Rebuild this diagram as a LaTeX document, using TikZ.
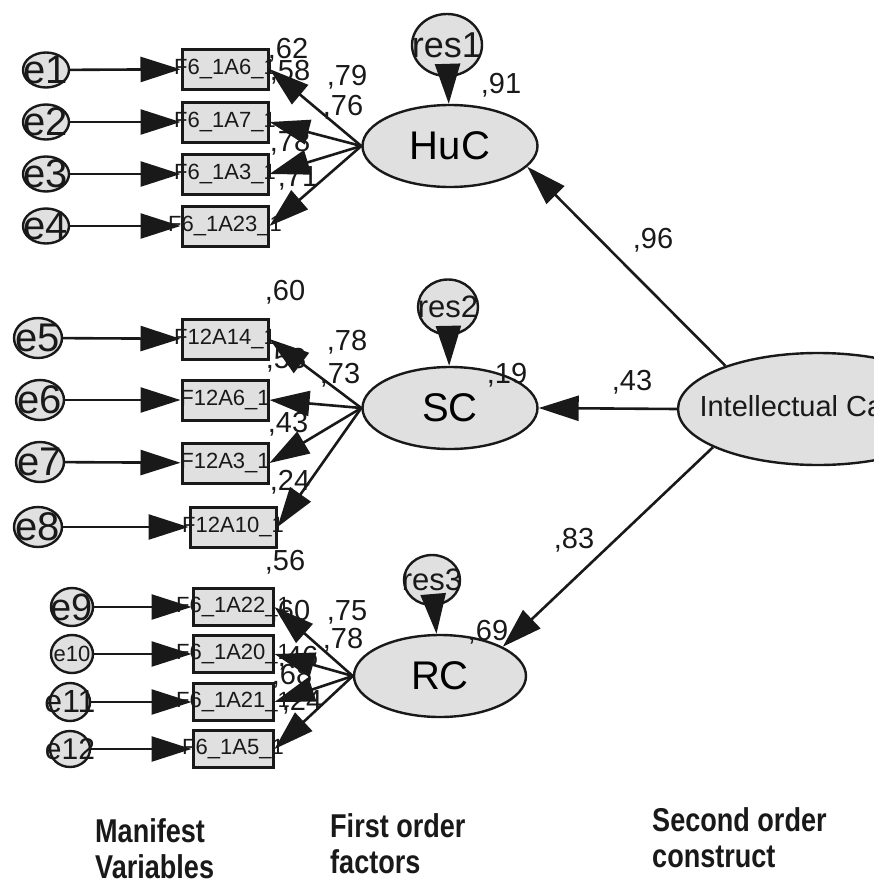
\documentclass[tikz,border=0pt]{standalone}
\usepackage{fontspec}
\usepackage{graphicx}
\setmainfont{Liberation Sans}
\usetikzlibrary{shapes.geometric,arrows.meta}
\newcommand\fs[1]{\fontsize{#1}{#1}\selectfont}
\newcommand\narrow[1]{\scalebox{0.82}[1]{#1}}
\begin{document}
\begin{tikzpicture}[x=1pt,y=-1pt,
  shell/.style={draw=black!90, line width=2.4pt, fill=black!12, inner sep=0pt},
  lat/.style={shell, ellipse, minimum width=175pt, minimum height=82pt, font=\fs{40}},
  res/.style={shell, ellipse},
  err/.style={shell, ellipse},
  obs/.style={shell, rectangle, line width=3pt, minimum width=86pt, minimum height=40pt},
  arr/.style={line width=2.6pt, draw=black!90, -{Triangle[length=40pt,width=25pt]}},
  txt/.style={inner sep=0pt, text=black!90},
  val/.style={txt, font=\fs{29}},
  item/.style={txt, font=\fs{22}},
  colcap/.style={txt, font=\fontsize{33}{36}\selectfont\bfseries, align=left, anchor=north west}
]
\useasboundingbox (0,0) rectangle (874,889);
\clip (0,0) rectangle (874,889);

% ---------- second order construct ----------
\node[shell, ellipse, minimum width=280pt, minimum height=112pt] (IC) at (818,409) {};
\node[txt, font=\fs{29}] at (818,409) {Intellectual Capital};

% ---------- first order factors ----------
\node[lat] (HuC) at (450,146) {HuC};
\node[lat] (SC)  at (450,408) {SC};
\node[lat, minimum width=172pt] (RC) at (440,676) {RC};

% residuals of the factors
\node[res, minimum width=70pt, minimum height=62pt] (r1) at (447,45) {};
\node[txt, font=\fs{36}] at (r1) {res1};
\node[res, minimum width=60pt, minimum height=55pt] (r2) at (448,307) {};
\node[txt, font=\fs{31}] at (r2) {res2};
\node[res, minimum width=56pt, minimum height=50pt] (r3) at (432,580) {};
\node[txt, font=\fs{31}] at (r3) {res3};

% ---------- manifest variables ----------
\foreach \n/\x/\y/\t in {1/225/69/F6\_1A6\_1, 2/225/122/F6\_1A7\_1, 3/225/174/F6\_1A3\_1, 4/225/226/F6\_1A23\_1,
                         5/225/339/F12A14\_1, 6/225/400/F12A6\_1, 7/225/463/F12A3\_1, 8/233/527/F12A10\_1}{
  \node[obs] (b\n) at (\x,\y) {};
  \node[item] at (b\n) {\t};
}
\foreach \n/\y/\t in {9/607/F6\_1A22\_1, 10/654/F6\_1A20\_1, 11/702/F6\_1A21\_1, 12/749/F6\_1A5\_1}{
  \node[obs, minimum width=80pt, minimum height=37pt] (b\n) at (233,\y) {};
  \node[item] at (b\n) {\t};
}

% error terms
\foreach \n/\x/\y in {1/46/70, 2/46/122, 3/46/174, 4/46/226}{
  \node[err, minimum width=46pt, minimum height=35pt] (e\n) at (\x,\y) {};
  \node[txt, font=\fs{40}] at (e\n) {e\n};
}
\foreach \n/\x/\y in {5/38/338, 6/40/400, 7/40/462, 8/38/527}{
  \node[err, minimum width=48pt, minimum height=40pt] (e\n) at (\x,\y) {};
  \node[txt, font=\fs{40}] at (e\n) {e\n};
}
\node[err, minimum width=42pt, minimum height=38pt] (e9) at (72,607) {};
\node[txt, font=\fs{38}] at (e9) {e9};
\node[err, minimum width=42pt, minimum height=38pt] (e10) at (72,654) {};
\node[txt, font=\fs{22}] at (e10) {e10};
\node[err, minimum width=40pt, minimum height=38pt] (e11) at (70,702) {};
\node[txt, font=\fs{32}] at (e11) {e11};
\node[err, minimum width=40pt, minimum height=36pt] (e12) at (70,749) {};
\node[txt, font=\fs{30}] at (e12) {e12};

% ---------- estimates ----------
\node[val] at (288,50) {,62};
\node[val] at (290,72) {,58};
\node[val] at (347,77) {,79};
\node[val] at (343,107) {,76};
\node[val] at (290,143) {,78};
\node[val] at (298,178) {,71};
\node[val] at (501,85) {,91};

\node[val] at (285,292) {,60};
\node[val] at (347,342) {,78};
\node[val] at (286,360) {,53};
\node[val] at (340,375) {,73};
\node[val] at (288,424) {,43};
\node[val] at (290,482) {,24};
\node[val] at (507,375) {,19};

\node[val] at (285,562) {,56};
\node[val] at (290,612) {,60};
\node[val] at (347,612) {,75};
\node[val] at (343,640) {,78};
\node[val] at (298,658) {,46};
\node[val] at (292,676) {,68};
\node[val] at (302,702) {,24};
\node[val] at (488,632) {,69};

\node[val] at (653,240) {,96};
\node[val] at (632,382) {,43};
\node[val] at (574,540) {,83};

% ---------- paths ----------
\foreach \n in {1,...,12} \draw[arr] (e\n) -- (b\n);
\foreach \n in {1,...,4} \draw[arr] (HuC.west) -- (b\n.east);
\foreach \n in {5,...,8} \draw[arr] (SC.west) -- (b\n.east);
\foreach \n in {9,...,12} \draw[arr] (RC.west) -- (b\n.east);
\draw[arr] (r1) -- (HuC);
\draw[arr] (r2) -- (SC);
\draw[arr] (r3) -- (RC);
\draw[arr] (IC.155) -- (HuC.-15);
\draw[arr] (IC.west) -- (SC.east);
\draw[arr] (IC.200) -- (RC.25);

% ---------- column captions ----------
\node[colcap] (c1) at (95,818) {\narrow{Manifest}\\\narrow{Variables}};
\node[colcap] (c2) at (330,813) {\narrow{First order}\\\narrow{factors}};
\node[colcap] (c3) at (652,807) {\narrow{Second order}\\\narrow{construct}};
\end{tikzpicture}
\end{document}
